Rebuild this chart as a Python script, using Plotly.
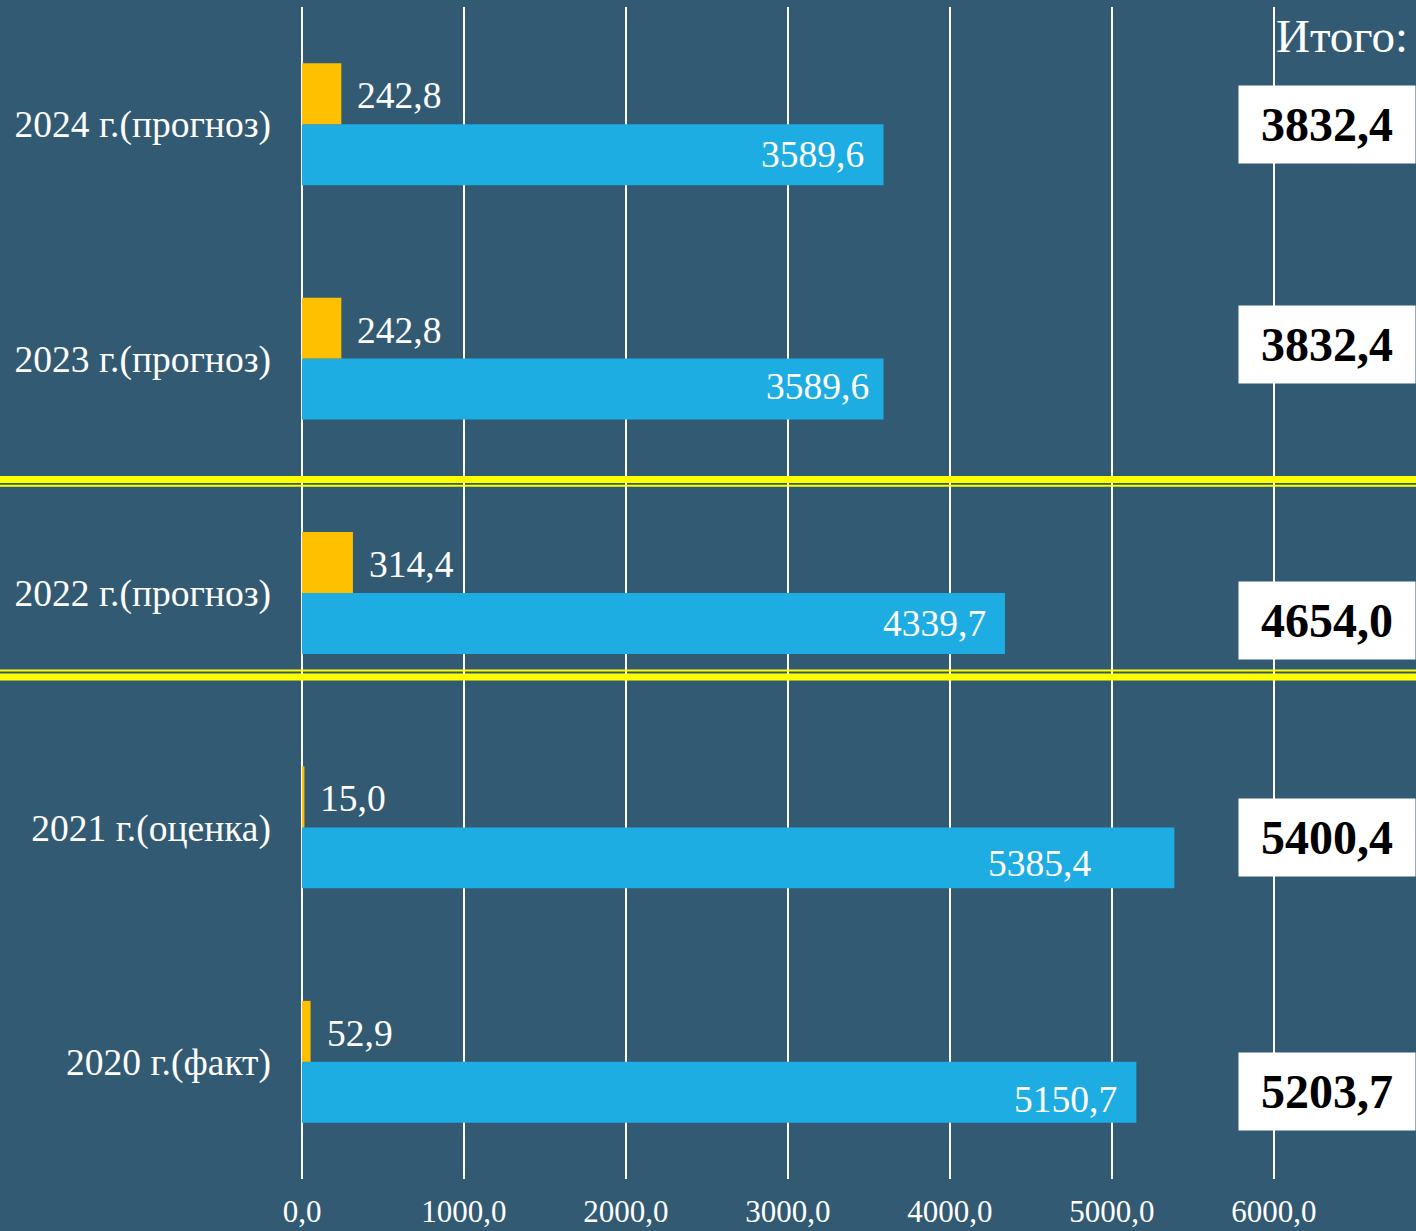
import plotly.graph_objects as go

categories = ["2020 г.(факт)", "2021 г.(оценка)", "2022 г.(прогноз)", "2023 г.(прогноз)", "2024 г.(прогноз)"]
blue_values = [5150.7, 5385.4, 4339.7, 3589.6, 3589.6]
yellow_values = [52.9, 15.0, 314.4, 242.8, 242.8]
totals = [5203.7, 5400.4, 4654.0, 3832.4, 3832.4]
tick_values = [0, 1000, 2000, 3000, 4000, 5000, 6000]
total_header = "Итого:"

def fmt(v):
    return f"{v:.1f}".replace(".", ",")

BG = "#335A73"
BLUE = "#1EADE3"
YELLOW = "#FFC000"
FONT = "Liberation Serif"

W, H = 1416, 1231
ML, MR, MT, MB = 302, 0, 7, 52

fig = go.Figure()
fig.add_trace(go.Bar(y=categories, x=blue_values, orientation="h", marker=dict(color=BLUE, line=dict(width=0)),
                     name="blue", showlegend=False, hoverinfo="x"))
fig.add_trace(go.Bar(y=categories, x=yellow_values, orientation="h", marker=dict(color=YELLOW, line=dict(width=0)),
                     name="yellow", showlegend=False, hoverinfo="x"))

annotations = []
# blue labels (inside end) style offsets
blue_dx = [-17, -81, -17, -12, -17]
blue_dy = [-7, -6, 0, 3, 0]
for i, (c, v) in enumerate(zip(categories, blue_values)):
    annotations.append(dict(x=v, y=i - 0.13, xref="x", yref="y", text=fmt(v), showarrow=False,
                            xanchor="right", yanchor="middle", xshift=blue_dx[i], yshift=blue_dy[i],
                            font=dict(family=FONT, size=37.5, color="white")))
for i, (c, v) in enumerate(zip(categories, yellow_values)):
    annotations.append(dict(x=v, y=i + 0.13, xref="x", yref="y", text=fmt(v), showarrow=False,
                            xanchor="left", yanchor="middle", xshift=14, yshift=-2,
                            font=dict(family=FONT, size=37.5, color="white")))
# totals boxes
total_dy = [-30, -10, -27, 14, 0]
for i, t in enumerate(totals):
    annotations.append(dict(x=1.0, y=i, xref="paper", yref="y", text="<b>" + fmt(t) + "</b>", showarrow=False,
                            xanchor="right", yanchor="middle", yshift=total_dy[i],
                            bgcolor="white", width=172, height=73, borderpad=2, align="center",
                            font=dict(family=FONT, size=48, color="black")))
annotations.append(dict(x=1.0, y=1.0, xref="paper", yref="paper", text=total_header, showarrow=False,
                        xanchor="right", yanchor="top", xshift=-6, yshift=-1,
                        font=dict(family=FONT, size=47, color="white")))

# yellow double separator lines (in y-axis units)
shapes = []
def add_line(yv, width):
    shapes.append(dict(type="line", xref="paper", yref="y", x0=-0.3, x1=1.0, y0=yv, y1=yv,
                       line=dict(color="#FFFF00", width=width), layer="above"))
add_line(2.484, 7)
add_line(2.458, 2)
add_line(1.669, 2)
add_line(1.642, 7)

fig.update_layout(
    width=W, height=H,
    margin=dict(l=ML, r=MR, t=MT, b=MB, pad=0, autoexpand=False),
    paper_bgcolor=BG, plot_bgcolor=BG,
    barmode="group", bargap=0.48, bargroupgap=0,
    annotations=annotations, shapes=shapes,
    showlegend=False,
    font=dict(family=FONT, color="white"),
)
fig.update_xaxes(range=[0, 6877], tickvals=tick_values, ticktext=[fmt(v) for v in tick_values],
                 showgrid=True, gridcolor="white", gridwidth=2, zeroline=True, zerolinecolor="white",
                 zerolinewidth=2, showline=False, ticks="", ticklabelstandoff=11, automargin=False,
                 tickfont=dict(family=FONT, size=31, color="white"))
fig.update_yaxes(categoryorder="array", categoryarray=categories, range=[-0.5, 4.5],
                 showgrid=False, zeroline=False, showline=False, ticks="", ticklabelstandoff=30,
                 automargin=False,
                 tickfont=dict(family=FONT, size=37.5, color="white"))

fig.write_html("out.html", config={"displayModeBar": False},
               post_script="document.body.style.margin='0';document.body.style.overflow='hidden';"
                           "document.body.style.background='" + BG + "';")
